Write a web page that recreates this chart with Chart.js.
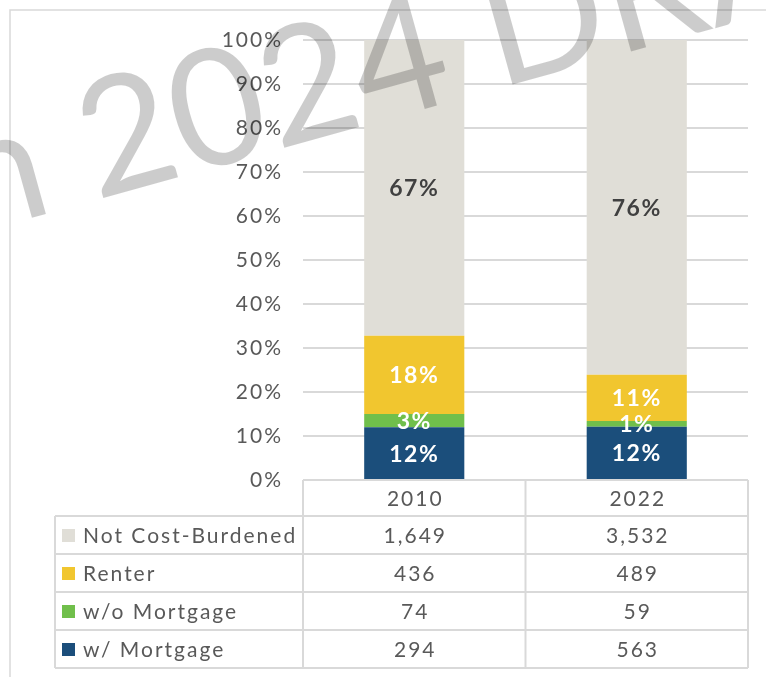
<!DOCTYPE html>
<html><head><meta charset="utf-8">
<script src="https://cdn.jsdelivr.net/npm/chart.js@4"></script>
<style>html,body{margin:0;padding:0;background:#fff;overflow:hidden;}</style>
</head><body>
<canvas id="c" width="766" height="677"></canvas>
<script>
const categories = ['2010', '2022'];
const seriesNames = ['w/ Mortgage', 'w/o Mortgage', 'Renter', 'Not Cost-Burdened'];
const withMortgage = [294, 563];
const withoutMortgage = [74, 59];
const renter = [436, 489];
const notCostBurdened = [1649, 3532];
const yTickMax = 100;
const yTickStep = 10;
const watermarkText = 'Plan 2024 DRAFT';

const seriesCounts = [withMortgage, withoutMortgage, renter, notCostBurdened];
const seriesColors = ['#1B4E7B', '#70BF4B', '#F1C62F', '#E0DED7'];
const labelColors = ['#FFFFFF', '#FFFFFF', '#FFFFFF', '#404040'];
const totals = categories.map((_, i) => seriesCounts.reduce((s, arr) => s + arr[i], 0));
const seriesPct = seriesCounts.map(arr => arr.map((v, i) => v / totals[i] * 100));

const FONT = 'Lato, "Open Sans", sans-serif';
const TEXT = '#595959';
const LINE = '#D9D9D9';
const SPACING = '2px';

const framePlugin = {
  id: 'frame',
  beforeDraw(chart) {
    const ctx = chart.ctx;
    ctx.save();
    ctx.fillStyle = '#fff';
    ctx.fillRect(0, 0, chart.width, chart.height);
    ctx.strokeStyle = LINE;
    ctx.lineWidth = 1.5;
    ctx.strokeRect(10, 10, 900, 900);
    ctx.restore();
    ctx.letterSpacing = SPACING;
  }
};

const labelPlugin = {
  id: 'barLabels',
  afterDatasetsDraw(chart) {
    const ctx = chart.ctx;
    ctx.save();
    ctx.letterSpacing = '1.5px';
    ctx.font = 'bold 23px ' + FONT;
    ctx.textAlign = 'center';
    ctx.textBaseline = 'middle';
    chart.data.datasets.forEach((ds, di) => {
      const meta = chart.getDatasetMeta(di);
      meta.data.forEach((bar, i) => {
        ctx.fillStyle = labelColors[di];
        ctx.fillText(Math.round(ds.data[i]) + '%', bar.x, (bar.y + bar.base) / 2 + 1);
      });
    });
    ctx.restore();
  }
};

const tablePlugin = {
  id: 'dataTable',
  afterDraw(chart) {
    const ctx = chart.ctx;
    const ca = chart.chartArea;
    const n = categories.length;
    const catW = (ca.right - ca.left) / n;
    const tableLeft = 55;
    const headerTop = ca.bottom;
    const headerBottom = headerTop + 36;
    const rowH = 38;
    const order = [3, 2, 1, 0];
    const bottom = headerBottom + rowH * order.length;
    ctx.save();
    ctx.letterSpacing = SPACING;
    ctx.strokeStyle = LINE;
    ctx.lineWidth = 2;
    ctx.beginPath();
    ctx.moveTo(ca.left, headerTop); ctx.lineTo(ca.right, headerTop);
    ctx.moveTo(tableLeft, headerBottom); ctx.lineTo(ca.right, headerBottom);
    order.forEach((_, r) => {
      const y = headerBottom + rowH * (r + 1);
      ctx.moveTo(tableLeft, y); ctx.lineTo(ca.right, y);
    });
    ctx.moveTo(tableLeft, headerBottom); ctx.lineTo(tableLeft, bottom);
    for (let k = 0; k <= n; k++) {
      const x = ca.left + k * catW;
      ctx.moveTo(x, headerTop); ctx.lineTo(x, bottom);
    }
    ctx.stroke();

    ctx.font = '21px ' + FONT;
    ctx.fillStyle = TEXT;
    ctx.textBaseline = 'middle';
    ctx.textAlign = 'center';
    const xs = chart.scales.x;
    categories.forEach((c, i) => {
      ctx.fillText(c, xs.getPixelForValue(i) + 1, (headerTop + headerBottom) / 2 + 1);
    });
    order.forEach((si, r) => {
      const yc = headerBottom + rowH * r + rowH / 2 + 1;
      ctx.fillStyle = seriesColors[si];
      ctx.fillRect(62, yc - 7, 13, 13);
      ctx.fillStyle = TEXT;
      ctx.textAlign = 'left';
      ctx.fillText(seriesNames[si], 83, yc);
      ctx.textAlign = 'center';
      categories.forEach((c, i) => {
        ctx.fillText(seriesCounts[si][i].toLocaleString('en-US'), xs.getPixelForValue(i) + 1, yc);
      });
    });
    ctx.restore();

    // watermark
    ctx.save();
    ctx.letterSpacing = '0px';
    ctx.translate(96, 200);
    ctx.rotate(-15.5 * Math.PI / 180);
    ctx.font = '162px ' + FONT;
    ctx.fillStyle = 'rgba(0,0,0,0.2)';
    ctx.textBaseline = 'alphabetic';
    ctx.textAlign = 'left';
    const pre = watermarkText.slice(0, watermarkText.indexOf('2024'));
    const w = ctx.measureText(pre).width;
    ctx.fillText(watermarkText, -w, 0);
    ctx.restore();
  }
};

new Chart(document.getElementById('c'), {
  type: 'bar',
  data: {
    labels: categories,
    datasets: seriesNames.map((name, i) => ({
      label: name,
      data: seriesPct[i],
      backgroundColor: seriesColors[i],
      borderWidth: 0,
      barPercentage: 0.45,
      categoryPercentage: 1.0,
      stack: 's'
    }))
  },
  options: {
    responsive: false,
    animation: false,
    devicePixelRatio: 1,
    layout: { padding: { left: 0, right: 18, top: 40, bottom: 197 } },
    plugins: { legend: { display: false }, tooltip: { enabled: false } },
    scales: {
      x: { stacked: true, display: false },
      y: {
        stacked: true,
        min: 0,
        max: yTickMax,
        afterFit(scale) { scale.width = 303; },
        border: { display: false },
        grid: { color: LINE, lineWidth: 2, drawTicks: false },
        ticks: {
          stepSize: yTickStep,
          padding: 20,
          color: TEXT,
          font: { family: FONT, size: 21 },
          callback: v => v + '%'
        }
      }
    }
  },
  plugins: [framePlugin, labelPlugin, tablePlugin]
});
</script>
</body></html>
